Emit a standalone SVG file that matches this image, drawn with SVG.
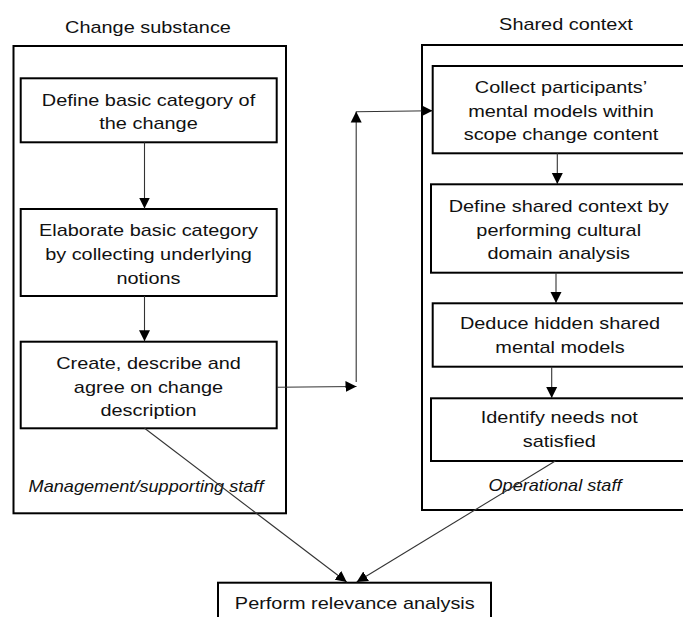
<svg xmlns="http://www.w3.org/2000/svg" width="683" height="617" viewBox="0 0 683 617">
<style>
  .frame { fill: #fff; stroke: #000; stroke-width: 2; }
  .box { fill: #fff; stroke: #000; stroke-width: 2; }
  .t { font-family: "Liberation Sans", Arial, sans-serif; font-size: 17px; fill: #111; text-anchor: middle; }
  .it { font-family: "Liberation Sans", Arial, sans-serif; font-size: 16px; font-style: italic; fill: #111; text-anchor: middle; }
  .conn line, .conn path { stroke: #333; stroke-width: 1.1; fill: none; }
</style>
<defs>
  <marker id="arr" markerUnits="userSpaceOnUse" markerWidth="12" markerHeight="12" viewBox="0 0 12 12" refX="11" refY="6" orient="auto">
    <path d="M0,0.5 L11,6 L0,11.5 Z" fill="#000" stroke="none"/>
  </marker>
</defs>
<rect width="683" height="617" fill="#fff"/>

<g id="lane-left">
  <rect class="frame" x="13.5" y="46" width="272.5" height="467.3"/>
  <text class="t" transform="translate(148,33) scale(1.17,1)">Change substance</text>
  <text class="it" transform="translate(146,491.5) scale(1.134,1)">Management/supporting staff</text>
</g>
<g id="lane-right">
  <rect class="frame" x="422" y="45" width="290" height="465"/>
  <text class="t" transform="translate(566,30) scale(1.17,1)">Shared context</text>
  <text class="it" transform="translate(555,491) scale(1.134,1)">Operational staff</text>
</g>

<g id="n1">
  <rect class="box" x="20.7" y="78.3" width="256" height="64"/>
  <text class="t" transform="translate(148.5,106) scale(1.17,1)">Define basic category of</text>
  <text class="t" transform="translate(148.5,128.5) scale(1.17,1)">the change</text>
</g>
<g id="n2">
  <rect class="box" x="20.7" y="209" width="256" height="87"/>
  <text class="t" transform="translate(148.5,236) scale(1.17,1)">Elaborate basic category</text>
  <text class="t" transform="translate(148.5,260) scale(1.17,1)">by collecting underlying</text>
  <text class="t" transform="translate(148.5,283.5) scale(1.17,1)">notions</text>
</g>
<g id="n3">
  <rect class="box" x="20.7" y="341.7" width="256" height="86.6"/>
  <text class="t" transform="translate(148.5,368.5) scale(1.17,1)">Create, describe and</text>
  <text class="t" transform="translate(148.5,392.5) scale(1.17,1)">agree on change</text>
  <text class="t" transform="translate(148.5,416) scale(1.17,1)">description</text>
</g>

<g id="n4">
  <rect class="box" x="432.7" y="66" width="260" height="87.3"/>
  <text class="t" transform="translate(561,92.7) scale(1.17,1)">Collect participants’</text>
  <text class="t" transform="translate(561,116.7) scale(1.17,1)">mental models within</text>
  <text class="t" transform="translate(561,140) scale(1.17,1)">scope change content</text>
</g>
<g id="n5">
  <rect class="box" x="431" y="184.3" width="262" height="88.4"/>
  <text class="t" transform="translate(558.7,212) scale(1.17,1)">Define shared context by</text>
  <text class="t" transform="translate(558.7,236) scale(1.17,1)">performing cultural</text>
  <text class="t" transform="translate(558.7,259.3) scale(1.17,1)">domain analysis</text>
</g>
<g id="n6">
  <rect class="box" x="432.7" y="303.3" width="260" height="63.4"/>
  <text class="t" transform="translate(560,329.3) scale(1.17,1)">Deduce hidden shared</text>
  <text class="t" transform="translate(560,353.3) scale(1.17,1)">mental models</text>
</g>
<g id="n7">
  <rect class="box" x="431" y="398.3" width="262" height="62.7"/>
  <text class="t" transform="translate(559.3,423.3) scale(1.17,1)">Identify needs not</text>
  <text class="t" transform="translate(559.3,447.3) scale(1.17,1)">satisfied</text>
</g>

<g id="n8">
  <rect class="box" x="218" y="582.7" width="273" height="60"/>
  <text class="t" transform="translate(354.8,608.5) scale(1.17,1)">Perform relevance analysis</text>
</g>

<g id="connectors" class="conn">
  <line x1="144.5" y1="142.3" x2="144.5" y2="208.5" marker-end="url(#arr)"/>
  <line x1="144.5" y1="296" x2="144.5" y2="341.2" marker-end="url(#arr)"/>
  <line x1="277" y1="387.3" x2="356.5" y2="386.5" marker-end="url(#arr)"/>
  <line x1="356.2" y1="382" x2="356.2" y2="111.5" marker-end="url(#arr)"/>
  <line x1="356.2" y1="111.7" x2="432.5" y2="110.7" marker-end="url(#arr)"/>
  <line x1="557.3" y1="153.3" x2="557.3" y2="184" marker-end="url(#arr)"/>
  <line x1="556" y1="272.7" x2="556" y2="303" marker-end="url(#arr)"/>
  <line x1="551.7" y1="366.7" x2="551.7" y2="398" marker-end="url(#arr)"/>
  <line x1="144.6" y1="428.3" x2="346.7" y2="582" marker-end="url(#arr)"/>
  <line x1="555.3" y1="461" x2="356.7" y2="582" marker-end="url(#arr)"/>
</g>
</svg>
